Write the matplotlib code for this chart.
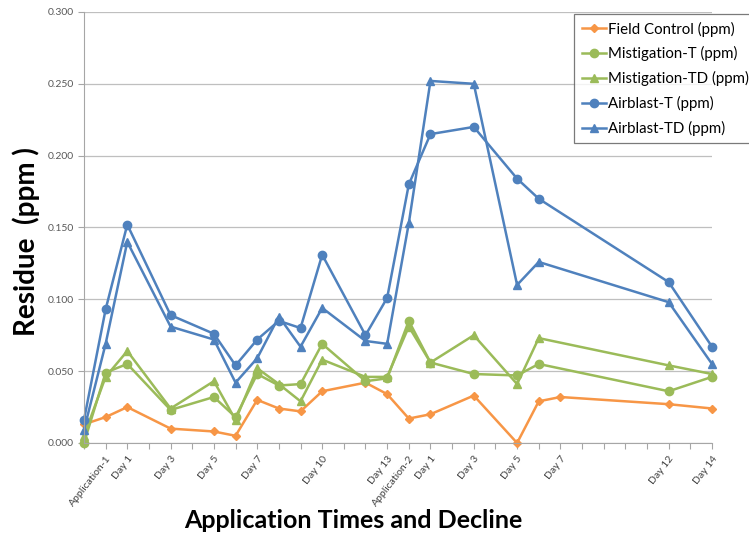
import numpy as np
import matplotlib
matplotlib.use('Agg')
import matplotlib.pyplot as plt

plt.rcParams['font.family'] = ['Lato', 'DejaVu Sans']

# day index along the axis (one step per day)
days = [0, 1, 2, 4, 6, 7, 8, 9, 10, 11, 13, 14, 15, 16, 18, 20, 21, 22, 27, 29]
nan = np.nan
field_control = [0.013, 0.018, 0.025, 0.010, 0.008, 0.005, 0.030, 0.024, 0.022, 0.036,
                 0.042, 0.034, 0.017, 0.020, 0.033, 0.000, 0.029, 0.032, 0.027, 0.024]
mist_t = [0.000, 0.049, 0.055, 0.023, 0.032, 0.018, 0.048, 0.040, 0.041, 0.069,
          0.043, 0.045, 0.085, 0.056, 0.048, 0.047, 0.055, nan, 0.036, 0.046]
mist_td = [0.005, 0.046, 0.064, 0.024, 0.043, 0.016, 0.052, 0.041, 0.029, 0.058,
           0.046, 0.046, 0.081, 0.056, 0.075, 0.041, 0.073, nan, 0.054, 0.048]
air_t = [0.016, 0.093, 0.152, 0.089, 0.076, 0.054, 0.072, 0.085, 0.080, 0.131,
         0.075, 0.101, 0.180, 0.215, 0.220, 0.184, 0.170, nan, 0.112, 0.067]
air_td = [0.009, 0.069, 0.140, 0.081, 0.072, 0.042, 0.059, 0.088, 0.067, 0.094,
          0.071, 0.069, 0.153, 0.252, 0.250, 0.110, 0.126, nan, 0.098, 0.055]

tick_days = [1, 2, 4, 6, 8, 11, 14, 15, 16, 18, 20, 22, 27, 29]
tick_labels = ['Application-1', 'Day 1', 'Day 3', 'Day 5', 'Day 7', 'Day 10', 'Day 13',
               'Application-2', 'Day 1', 'Day 3', 'Day 5', 'Day 7', 'Day 12', 'Day 14']

series = [
    ('Field Control (ppm)', field_control, '#F79646', 'D', 4),
    ('Mistigation-T (ppm)', mist_t, '#9BBB59', 'o', 6),
    ('Mistigation-TD (ppm)', mist_td, '#9BBB59', '^', 6),
    ('Airblast-T (ppm)', air_t, '#4F81BD', 'o', 6),
    ('Airblast-TD (ppm)', air_td, '#4F81BD', '^', 6),
]

fig = plt.figure(figsize=(7.49, 5.35), dpi=100)
ax = fig.add_axes([0.1121, 0.172, 0.9506 - 0.1121, 0.9776 - 0.172])

x = np.array(days, dtype=float)
for name, vals, col, mk, ms in series:
    v = np.array(vals, dtype=float)
    ok = ~np.isnan(v)
    ax.plot(x[ok], v[ok], color=col, marker=mk, markersize=ms, lw=1.8,
            label=name, clip_on=False)

ax.set_xlim(0, 29)
ax.set_ylim(0, 0.3)
ax.set_yticks(np.arange(0, 0.301, 0.05))
ax.set_yticklabels(['%.3f' % t for t in np.arange(0, 0.301, 0.05)])
ax.yaxis.grid(True, color='#BFBFBF', lw=0.9)
ax.set_axisbelow(True)

labels = [''] * 30
for d, t in zip(tick_days, tick_labels):
    labels[d] = t
ax.set_xticks(range(30))
ax.set_xticklabels(labels, rotation=52, ha='right', rotation_mode='anchor')

for s in ['top', 'right']:
    ax.spines[s].set_visible(False)
for s in ['left', 'bottom']:
    ax.spines[s].set_color('#A6A6A6')
ax.tick_params(axis='x', length=4, color='#A6A6A6', labelsize=7.5, labelcolor='#404040', pad=4)
ax.tick_params(axis='y', length=4, color='#A6A6A6', labelsize=7.5, labelcolor='#595959')

fig.text(26 / 749, 1 - 242 / 535, 'Residue  (ppm )', rotation=90, fontsize=20,
         fontweight='bold', ha='center', va='center')
fig.text(353 / 749, 1 - 520 / 535, 'Application Times and Decline', fontsize=18,
         fontweight='bold', ha='center', va='center')

leg = ax.legend(loc='upper left', bbox_to_anchor=(574 / 749, 1 - 14 / 535),
                bbox_transform=fig.transFigure, fontsize=10.8, frameon=True,
                fancybox=False, borderaxespad=0, handlelength=1.6, handletextpad=0.2,
                labelspacing=0.65, borderpad=0.5)
leg.get_frame().set_edgecolor('#595959')
leg.get_frame().set_linewidth(0.9)

fig.savefig('out.png', dpi=100)
